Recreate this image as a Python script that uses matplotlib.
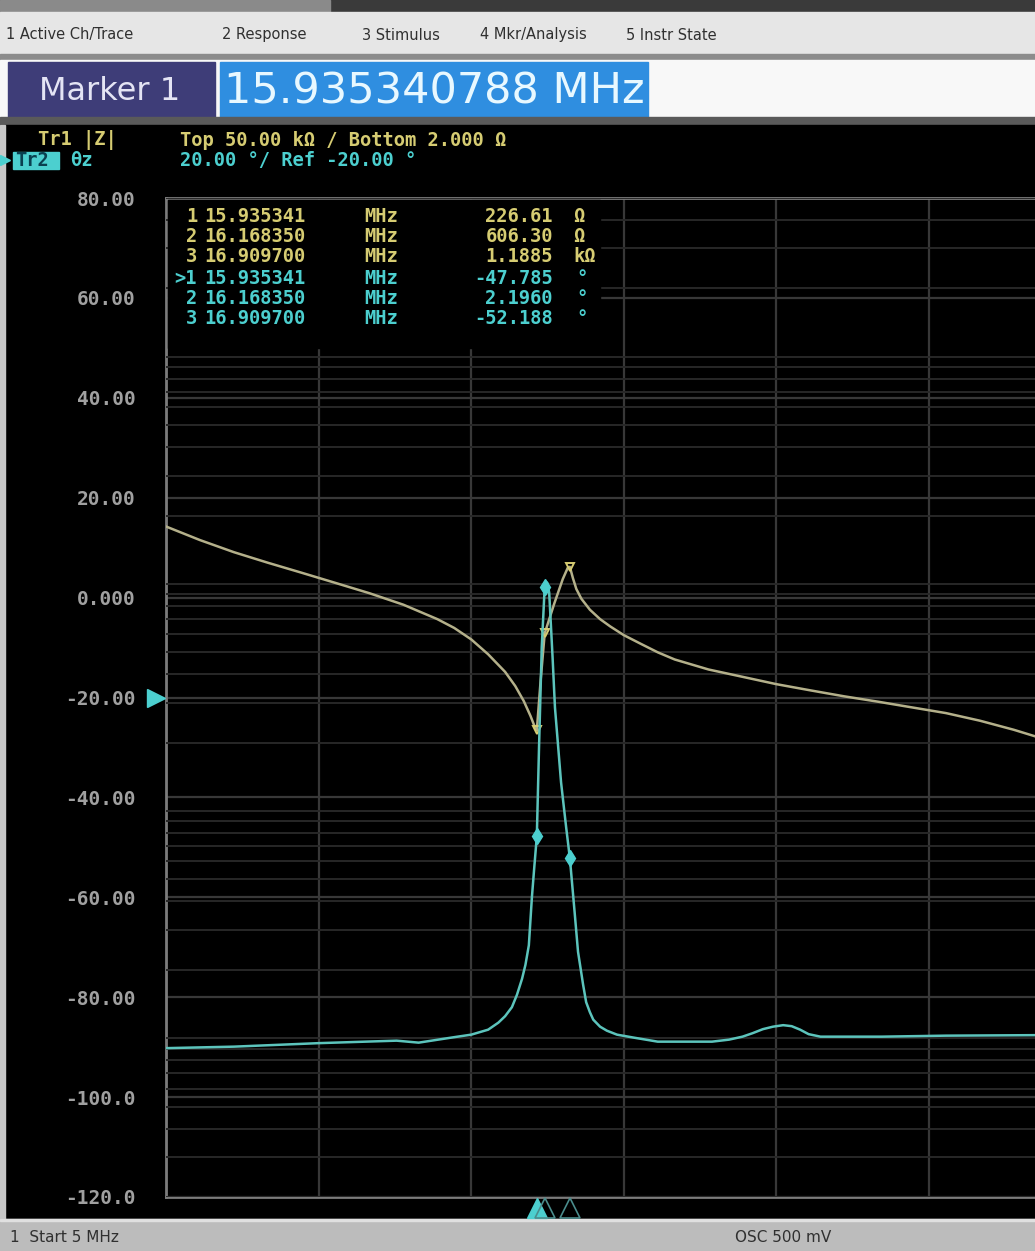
import numpy as np
import matplotlib.pyplot as plt
from matplotlib.patches import Rectangle
from matplotlib.ticker import LogLocator, NullFormatter, NullLocator

# ---- data ----
# Tr1 |Z| (ohm), log scale 2 ohm .. 50 kohm
z_freq = [5.0, 6.0, 7.0, 8.0, 9.0, 10.0, 11.0, 12.0, 13.0, 13.5, 14.0, 14.5, 15.0,
          15.3, 15.55, 15.75, 15.85, 15.935, 16.05, 16.168, 16.45, 16.7, 16.85, 16.91,
          17.0, 17.1, 17.25, 17.5, 17.8, 18.1, 18.5, 19.0, 19.5, 20.0, 21.0, 22.0,
          23.0, 24.0, 25.0, 26.0, 27.0, 28.0, 29.0, 30.0, 30.6]
z_mag = [1790, 1560, 1380, 1240, 1120, 1010, 910, 810, 700, 640, 570, 490, 410,
         355, 305, 262, 240, 226.6, 380, 606.3, 820, 1050, 1180, 1188.5,
         1060, 950, 860, 770, 700, 650, 595, 545, 500, 465, 420, 390,
         362, 340, 320, 303, 286, 270, 250, 228, 214]

# Tr2 phase (deg)
ph_freq = [5.0, 7.0, 9.5, 11.8, 12.45, 13.5, 14.0, 14.5, 14.8, 15.0, 15.2, 15.35,
           15.5, 15.6, 15.7, 15.79, 15.86, 15.935, 16.0, 16.08, 16.168, 16.24, 16.3,
           16.4, 16.47, 16.65, 16.8, 16.91, 17.05, 17.15, 17.3, 17.39, 17.5, 17.6,
           17.8, 18.0, 18.3, 18.8, 19.5, 21.1, 21.6, 22.0, 22.3, 22.6, 22.9, 23.2,
           23.45, 23.7, 23.95, 24.3, 26.1, 28.0, 30.6]
ph_deg = [-90.2, -89.9, -89.2, -88.7, -89.1, -88.0, -87.5, -86.5, -85.1, -83.8, -82.0, -79.5,
          -76.3, -73.5, -69.6, -60.0, -54.0, -47.8, -30.0, -10.0, 2.2, 3.0, 1.0,
          -12.0, -22.0, -37.0, -46.0, -52.2, -63.0, -70.9, -77.5, -81.0, -83.0, -84.5,
          -85.9, -86.7, -87.5, -88.1, -88.9, -88.9, -88.5, -87.9, -87.2, -86.4, -85.9, -85.6,
          -85.8, -86.5, -87.4, -87.9, -87.9, -87.7, -87.6]

# markers
mk_freq = [15.935341, 16.168350, 16.909700]
mk_freq_txt = ["15.935341", "16.168350", "16.909700"]
mk_z = [226.61, 606.30, 1188.5]
mk_z_txt = ["226.61", "606.30", "1.1885"]
mk_z_unit = ["Ω", "Ω", "kΩ"]
mk_ph = [-47.785, 2.1960, -52.188]
mk_ph_txt = ["-47.785", "2.1960", "-52.188"]

ytick_vals = [80, 60, 40, 20, 0, -20, -40, -60, -80, -100, -120]
ytick_txt = ["80.00", "60.00", "40.00", "20.00", "0.000", "-20.00", "-40.00",
             "-60.00", "-80.00", "-100.0", "-120.0"]
menu_items = ["1 Active Ch/Trace", "2 Response", "3 Stimulus", "4 Mkr/Analysis", "5 Instr State"]
menu_x = [6, 222, 362, 480, 626]

YEL = '#b4b08a'
YEL_TXT = '#d6cc72'
CYN = '#5cc4bc'
CYN_TXT = '#4ccfcf'
MONO = 'DejaVu Sans Mono'
UI = ['Liberation Sans Narrow', 'DejaVu Sans']

W, H = 1035, 1251
fig = plt.figure(figsize=(W / 100, H / 100), dpi=100)
fig.patch.set_facecolor('white')

# pixel-space layer for the instrument UI
bg = fig.add_axes([0, 0, 1, 1], zorder=0)
bg.set_xlim(0, W)
bg.set_ylim(H, 0)
bg.axis('off')

bg.add_patch(Rectangle((0, 0), W, 12, color='#3a3a3a'))
bg.add_patch(Rectangle((0, 0), 330, 12, color='#8a8a8a'))
bg.add_patch(Rectangle((0, 12), W, 42, color='#e6e6e6'))
for t, x in zip(menu_items, menu_x):
    bg.text(x, 35, t, fontsize=10.5, color='#303030', va='center', ha='left', family=UI)
bg.add_patch(Rectangle((0, 54), W, 6, color='#8c8c8c'))
bg.add_patch(Rectangle((0, 60), W, 58, color='#f8f8f8'))
bg.add_patch(Rectangle((8, 62), 207, 55, color='#3e3d78'))
bg.text(110, 92, "Marker 1", fontsize=23, color='#e4e4f4', ha='center', va='center',
        family='DejaVu Sans')
bg.add_patch(Rectangle((220, 62), 428, 55, color='#2f8ee0'))
bg.text(224, 92, "15.935340788 MHz", fontsize=31, color='#e8f8ff', ha='left', va='center',
        family='DejaVu Sans')
bg.add_patch(Rectangle((0, 117), W, 8, color='#5a5a5a'))
bg.add_patch(Rectangle((0, 125), W, 1095, color='black'))
bg.add_patch(Rectangle((0, 125), 5, 1095, color='#c8c8c8'))
bg.add_patch(Rectangle((0, 1219), W, 32, color='#bcbcbc'))
bg.add_patch(Rectangle((0, 1219), W, 2, color='#e0e0e0'))
bg.text(10, 1238, "1  Start 5 MHz", fontsize=11, color='#303030', va='center', family=UI)
bg.text(735, 1238, "OSC 500 mV", fontsize=11, color='#303030', va='center', family=UI)

# trace header
bg.text(38, 140, "Tr1 |Z|", fontsize=13.5, color=YEL_TXT, va='center', family=MONO, weight='bold')
bg.text(180, 140, "Top 50.00 kΩ / Bottom 2.000 Ω", fontsize=13.5, color=YEL_TXT,
        va='center', family=MONO, weight='bold')
bg.add_patch(Rectangle((13, 152), 46, 17, color=CYN_TXT))
bg.plot([5], [160], marker='>', ms=7, color=CYN_TXT, ls='none')
bg.text(15, 160, "Tr2", fontsize=13.5, color='#0a4050', va='center', family=MONO, weight='bold')
bg.text(70, 160, "θz", fontsize=13.5, color=CYN_TXT, va='center', family=MONO, weight='bold')
bg.text(180, 160, "20.00 °/ Ref -20.00 °", fontsize=13.5, color=CYN_TXT, va='center',
        family=MONO, weight='bold')

# ---- plot area ----
x_left, y_top, y_bot = 166, 198, 1197
f_start, f_div, px_div = 5.0, 4.5, 152.6
f_stop = f_start + (W - x_left) / px_div * f_div

ax = fig.add_axes([x_left / W, (H - y_bot) / H, (W - x_left) / W, (y_bot - y_top) / H], zorder=2)
ax.set_facecolor('none')
ax.set_xlim(f_start, f_stop)
ax.set_ylim(-120, 80)
ax.set_xticks(np.arange(f_start, f_stop, f_div))
ax.set_xticklabels([])
ax.set_yticks(ytick_vals)
ax.set_yticklabels(ytick_txt, family=MONO, fontsize=14, color='#a0a0a0', weight='bold')
ax.tick_params(length=0, pad=22)
ax.grid(True, color='#383838', lw=1.6)
for s in ['left', 'top', 'bottom']:
    ax.spines[s].set_color('#7c7c7c')
    ax.spines[s].set_linewidth(2)
ax.spines['right'].set_visible(False)
ax.set_axisbelow(True)

# |Z| on log scale with the log graticule
ax2 = ax.twinx()
ax2.set_yscale('log')
ax2.set_ylim(2, 50000)
ax2.yaxis.set_major_locator(LogLocator(base=10, subs=np.arange(1, 10)))
ax2.yaxis.set_minor_locator(NullLocator())
ax2.yaxis.set_major_formatter(NullFormatter())
ax2.tick_params(length=0, right=False, labelright=False)
ax2.grid(True, axis='y', color='#282828', lw=1.4)
for s in ax2.spines.values():
    s.set_visible(False)
ax2.set_axisbelow(True)
ax2.plot(z_freq, z_mag, color=YEL, lw=1.8, zorder=3)
ax2.plot(mk_freq, mk_z, ls='none', marker='v', ms=6, mfc='none', mec=YEL_TXT, mew=1.4, zorder=4)

# phase trace
ax_ph = ax2.twinx()
ax_ph.set_ylim(-120, 80)
ax_ph.axis('off')
ax_ph.plot(ph_freq, ph_deg, color=CYN, lw=1.8, zorder=3)
ax_ph.plot(mk_freq, mk_ph, ls='none', marker='d', ms=8, color=CYN_TXT, zorder=4)

# reference level pointer and marker flags under the graticule
ax_ph.plot([-0.012], [-20], marker='>', ms=13, color=CYN_TXT, clip_on=False,
           transform=ax_ph.get_yaxis_transform())
xt = ax_ph.get_xaxis_transform()
ax_ph.plot(mk_freq[:1], [-0.011], marker='^', ms=15, color=CYN_TXT, ls='none', clip_on=False,
           transform=xt)
ax_ph.plot(mk_freq[1:], [-0.011] * 2, marker='^', ms=15, mfc='none', mec='#4a8c8c', mew=1.2,
           ls='none', clip_on=False, transform=xt)

# marker readout table
ov = fig.add_axes([0, 0, 1, 1], zorder=6)
ov.set_xlim(0, W)
ov.set_ylim(H, 0)
ov.axis('off')
ov.add_patch(Rectangle((x_left + 2, y_top + 2), 432, 148, color='black'))
rows_y = [216, 236, 257, 279, 299, 318]
kw = dict(fontsize=13.5, va='center', family=MONO, weight='bold')
for i in range(3):
    y = rows_y[i]
    ov.text(197, y, str(i + 1), color=YEL_TXT, ha='right', **kw)
    ov.text(204, y, mk_freq_txt[i], color=YEL_TXT, **kw)
    ov.text(364, y, "MHz", color=YEL_TXT, **kw)
    ov.text(553, y, mk_z_txt[i], color=YEL_TXT, ha='right', **kw)
    ov.text(573, y, mk_z_unit[i], color=YEL_TXT, **kw)
for i in range(3):
    y = rows_y[i + 3]
    idx = ">1" if i == 0 else str(i + 1)
    ov.text(197, y, idx, color=CYN_TXT, ha='right', **kw)
    ov.text(204, y, mk_freq_txt[i], color=CYN_TXT, **kw)
    ov.text(364, y, "MHz", color=CYN_TXT, **kw)
    ov.text(553, y, mk_ph_txt[i], color=CYN_TXT, ha='right', **kw)
    ov.text(576, y, "°", color=CYN_TXT, **kw)

fig.savefig('out.png', dpi=100, facecolor=fig.get_facecolor())
